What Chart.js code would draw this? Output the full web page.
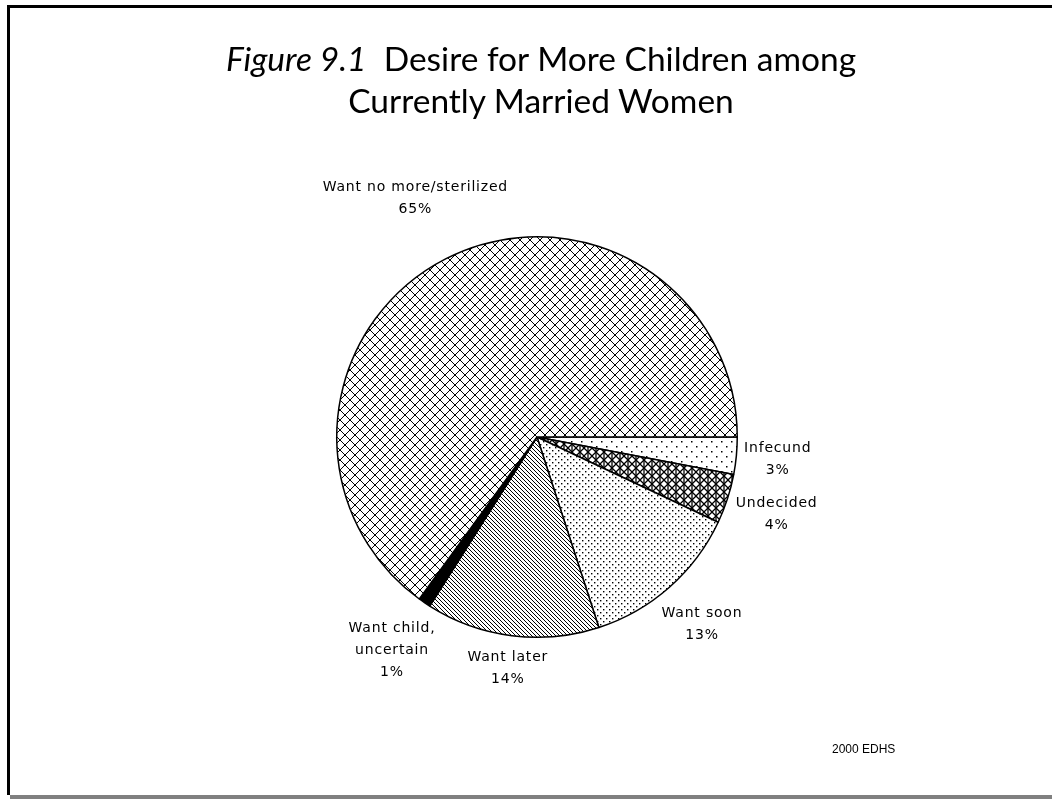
<!DOCTYPE html>
<html>
<head>
<meta charset="utf-8">
<script src="https://cdn.jsdelivr.net/npm/chart.js@4/dist/chart.umd.min.js"></script>
<style>
  html, body { margin: 0; padding: 0; background: #fff; }
  body { width: 1052px; height: 799px; position: relative; overflow: hidden; }
  .frame { position: absolute; left: 7px; top: 5px; width: 1045px; height: 790px;
    border-left: 3px solid #000; border-top: 3px solid #000; box-sizing: border-box; }
  .bottom { position: absolute; left: 10px; top: 795px; width: 1042px; height: 4px; background: #808080; }
  .title { position: absolute; left: 0; top: 37px; width: 1082px; text-align: center;
    font-family: Lato, "Open Sans", sans-serif; font-size: 33.5px; line-height: 42px; color: #000; white-space: pre; }
  .title i { font-style: italic; }
  .source { position: absolute; left: 832px; top: 742px; font-family: "Liberation Sans", Arial, sans-serif;
    font-size: 12px; color: #000; }
  #chart { position: absolute; left: 0; top: 0; }
</style>
</head>
<body>
<div class="frame"></div>
<div class="bottom"></div>
<canvas id="chart" width="1052" height="799"></canvas>
<div class="title"><i>Figure 9.1</i>  Desire for More Children among
Currently Married Women</div>
<div class="source">2000 EDHS</div>
<script>
const categories = ["Infecund", "Undecided", "Want soon", "Want later", "Want child, uncertain", "Want no more/sterilized"];
const labelLines = [["Infecund"], ["Undecided"], ["Want soon"], ["Want later"], ["Want child,", "uncertain"], ["Want no more/sterilized"]];
const percents = [3, 4, 13, 14, 1, 65];

function tile(size, draw) {
  const c = document.createElement("canvas");
  c.width = size; c.height = size;
  const g = c.getContext("2d");
  g.fillStyle = "#fff";
  g.fillRect(0, 0, size, size);
  g.fillStyle = "#000";
  g.strokeStyle = "#000";
  draw(g, size);
  return document.getElementById("chart").getContext("2d").createPattern(c, "repeat");
}

function diag(g, s, dir) {
  g.beginPath();
  if (dir > 0) {
    g.moveTo(-1, -1); g.lineTo(s + 1, s + 1);
    g.moveTo(s - 1, -1); g.lineTo(s + 1, 1);
    g.moveTo(-1, s - 1); g.lineTo(1, s + 1);
  } else {
    g.moveTo(s + 1, -1); g.lineTo(-1, s + 1);
    g.moveTo(1, -1); g.lineTo(-1, 1);
    g.moveTo(s + 1, s - 1); g.lineTo(s - 1, s + 1);
  }
  g.stroke();
}

const sparseDots = tile(10, g => { g.fillRect(1, 1, 1.5, 1.5); g.fillRect(6, 6, 1.5, 1.5); });
const denseHatch = tile(8, (g, s) => {
  g.lineWidth = 1.3; diag(g, s, 1); diag(g, s, -1);
  g.beginPath(); g.moveTo(4, 0); g.lineTo(4, 8); g.stroke();
});
const denseDots = tile(6, g => { g.fillRect(0, 0, 1.4, 1.4); g.fillRect(3, 3, 1.4, 1.4); });
const fineLines = tile(4, (g, s) => { g.lineWidth = 1; diag(g, s, 1); });
const crossHatch = tile(10, (g, s) => { g.lineWidth = 1; diag(g, s, 1); diag(g, s, -1); });

const fills = [sparseDots, denseHatch, denseDots, fineLines, "#000", crossHatch];

const outsideLabels = {
  id: "outsideLabels",
  afterDatasetsDraw(chart) {
    const ctx = chart.ctx;
    const meta = chart.getDatasetMeta(0);
    ctx.save();
    ctx.font = "14px 'DejaVu Sans', sans-serif";
    ctx.letterSpacing = "0.8px";
    ctx.fillStyle = "#000";
    ctx.textAlign = "center";
    ctx.textBaseline = "middle";
    const lh = 22;
    meta.data.forEach((arc, i) => {
      const p = arc.getProps(["x", "y", "startAngle", "endAngle", "outerRadius"], true);
      const mid = (p.startAngle + p.endAngle) / 2;
      const lines = labelLines[i].concat([percents[i] + "%"]);
      const w = Math.max(...lines.map(t => ctx.measureText(t).width));
      const h = lines.length * lh;
      const c = Math.cos(mid), s = Math.sin(mid);
      const d = p.outerRadius + 6 + (w / 2) * Math.abs(c) + (h / 2) * Math.abs(s);
      const cx = p.x + d * c, cy = p.y + d * s;
      lines.forEach((t, k) => ctx.fillText(t, cx, cy - h / 2 + lh / 2 + k * lh));
    });
    ctx.restore();
  }
};

new Chart(document.getElementById("chart"), {
  type: "pie",
  data: {
    labels: categories,
    datasets: [{ data: percents, backgroundColor: fills, borderColor: "#000", borderWidth: 1.5 }]
  },
  options: {
    responsive: false,
    animation: false,
    rotation: 90,
    layout: { padding: { left: 336, right: 314, top: 236, bottom: 161 } },
    plugins: { legend: { display: false }, tooltip: { enabled: false }, title: { display: false } }
  },
  plugins: [outsideLabels]
});
</script>
</body>
</html>
